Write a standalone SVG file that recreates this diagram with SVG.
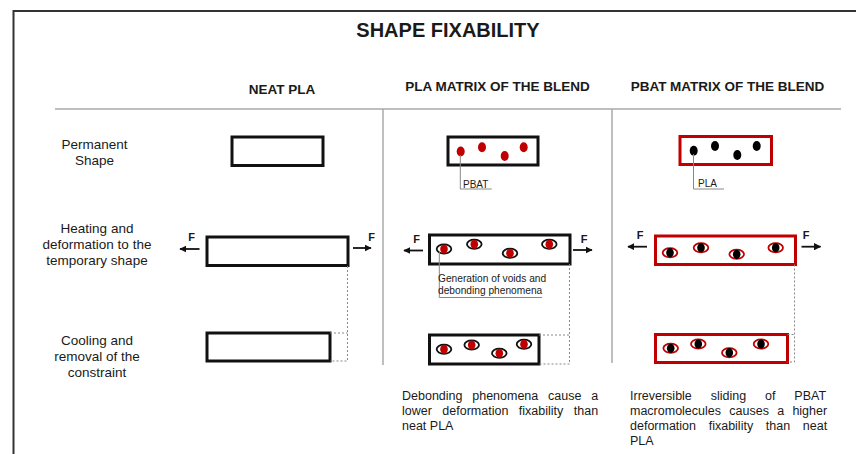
<svg xmlns="http://www.w3.org/2000/svg" width="856" height="454" viewBox="0 0 856 454">
<defs>
<style>
text{font-family:"Liberation Sans",Arial,sans-serif;fill:#1a1a1a}
.title{font-size:20px;font-weight:bold;text-anchor:middle}
.head{font-size:13.5px;font-weight:bold;text-anchor:middle}
.row{font-size:13.5px;text-anchor:middle}
.note{font-size:12.5px}
.lbl{font-size:10.2px}
.f{font-size:11px;font-weight:bold;text-anchor:middle}
.bk{fill:none;stroke:#111;stroke-width:3}
.rd{fill:none;stroke:#c00000;stroke-width:3}
.dr{fill:#c00000}
.db{fill:#000}
.vb{fill:none;stroke:#111;stroke-width:1.8}
.vr{fill:none;stroke:#c00000;stroke-width:1.8}
.div{stroke:#aaaaaa;stroke-width:1.5;fill:none}
.dot{stroke:#888;stroke-width:1;stroke-dasharray:2 2;fill:none}
.lead{stroke:#888;stroke-width:1;fill:none}
.arr{stroke:#111;stroke-width:1.8;fill:none;marker-end:url(#ah)}
</style>
<marker id="ah" viewBox="0 0 10 10" refX="9" refY="5" markerWidth="4" markerHeight="4" orient="auto">
<path d="M0,0 L10,5 L0,10 z" fill="#111"/>
</marker>
</defs>
<rect x="0" y="0" width="856" height="454" fill="#fff"/>
<g id="frame">
<path d="M13.5,454 V11 H856" fill="none" stroke="#333" stroke-width="2"/>
<line class="div" x1="55" y1="109" x2="841" y2="109"/>
<line class="div" x1="383" y1="109" x2="383" y2="365"/>
<line class="div" x1="612" y1="109" x2="612" y2="363"/>
</g>
<g id="headers">
<text class="title" x="448" y="37">SHAPE FIXABILITY</text>
<text class="head" x="282" y="94">NEAT PLA</text>
<text class="head" x="497.5" y="91">PLA MATRIX OF THE BLEND</text>
<text class="head" x="727.5" y="91">PBAT MATRIX OF THE BLEND</text>
</g>
<g id="row-labels">
<text class="row" x="94.5" y="149">Permanent</text>
<text class="row" x="94.5" y="165">Shape</text>
<text class="row" x="97" y="233">Heating and</text>
<text class="row" x="97" y="249">deformation to the</text>
<text class="row" x="97" y="265">temporary shape</text>
<text class="row" x="97" y="345">Cooling and</text>
<text class="row" x="97" y="361">removal of the</text>
<text class="row" x="97" y="377">constraint</text>
</g>
<g id="neat-permanent"><rect class="bk" x="232" y="137" width="91" height="28.5"/></g>
<g id="neat-deformed"><rect class="bk" x="207" y="237" width="141" height="28.5"/></g>
<g id="neat-cooled"><rect class="bk" x="207" y="333" width="123" height="28"/></g>
<g id="pla-permanent">
<rect class="bk" x="448" y="137" width="90" height="28"/>
<ellipse class="dr" cx="460.7" cy="151.5" rx="4" ry="5"/>
<ellipse class="dr" cx="482" cy="147.3" rx="4" ry="5"/>
<ellipse class="dr" cx="504.7" cy="156" rx="4" ry="5"/>
<ellipse class="dr" cx="523.7" cy="147.3" rx="4" ry="5"/>
</g>
<g id="pla-deformed">
<rect class="bk" x="429.5" y="235" width="140.5" height="29"/>
<ellipse class="vb" cx="444" cy="249" rx="7.3" ry="4.6"/><ellipse class="dr" cx="444" cy="249" rx="3.8" ry="4.6"/>
<ellipse class="vb" cx="474.3" cy="244.3" rx="7.3" ry="4.6"/><ellipse class="dr" cx="474.3" cy="244.3" rx="3.8" ry="4.6"/>
<ellipse class="vb" cx="510" cy="253.3" rx="7.3" ry="4.6"/><ellipse class="dr" cx="510" cy="253.3" rx="3.8" ry="4.6"/>
<ellipse class="vb" cx="549.3" cy="244.3" rx="7.3" ry="4.6"/><ellipse class="dr" cx="549.3" cy="244.3" rx="3.8" ry="4.6"/>
</g>
<g id="pla-cooled">
<rect class="bk" x="429.5" y="335" width="109.5" height="29"/>
<ellipse class="vb" cx="444" cy="349.3" rx="7.3" ry="4.6"/><ellipse class="dr" cx="444" cy="349.3" rx="3.8" ry="4.6"/>
<ellipse class="vb" cx="471.7" cy="345" rx="7.3" ry="4.6"/><ellipse class="dr" cx="471.7" cy="345" rx="3.8" ry="4.6"/>
<ellipse class="vb" cx="499.3" cy="353.3" rx="7.3" ry="4.6"/><ellipse class="dr" cx="499.3" cy="353.3" rx="3.8" ry="4.6"/>
<ellipse class="vb" cx="524" cy="344.3" rx="7.3" ry="4.6"/><ellipse class="dr" cx="524" cy="344.3" rx="3.8" ry="4.6"/>
</g>
<g id="pbat-permanent">
<rect class="rd" x="680" y="136.5" width="91.5" height="28"/>
<ellipse class="db" cx="693.7" cy="150.7" rx="4" ry="5"/>
<ellipse class="db" cx="715" cy="146" rx="4" ry="5"/>
<ellipse class="db" cx="737.3" cy="155" rx="4" ry="5"/>
<ellipse class="db" cx="756.7" cy="146" rx="4" ry="5"/>
</g>
<g id="pbat-deformed">
<rect class="rd" x="655.5" y="236" width="140" height="28.5"/>
<ellipse class="vr" cx="670" cy="252.7" rx="7.3" ry="4.6"/><ellipse class="db" cx="670" cy="252.7" rx="3.8" ry="4.6"/>
<ellipse class="vr" cx="701" cy="247.7" rx="7.3" ry="4.6"/><ellipse class="db" cx="701" cy="247.7" rx="3.8" ry="4.6"/>
<ellipse class="vr" cx="736.7" cy="254.3" rx="7.3" ry="4.6"/><ellipse class="db" cx="736.7" cy="254.3" rx="3.8" ry="4.6"/>
<ellipse class="vr" cx="775.7" cy="247.7" rx="7.3" ry="4.6"/><ellipse class="db" cx="775.7" cy="247.7" rx="3.8" ry="4.6"/>
</g>
<g id="pbat-cooled">
<rect class="rd" x="655.5" y="334.5" width="132" height="28"/>
<ellipse class="vr" cx="670.7" cy="348.3" rx="7.3" ry="4.6"/><ellipse class="db" cx="670.7" cy="348.3" rx="3.8" ry="4.6"/>
<ellipse class="vr" cx="698.3" cy="344" rx="7.3" ry="4.6"/><ellipse class="db" cx="698.3" cy="344" rx="3.8" ry="4.6"/>
<ellipse class="vr" cx="729.3" cy="352.7" rx="7.3" ry="4.6"/><ellipse class="db" cx="729.3" cy="352.7" rx="3.8" ry="4.6"/>
<ellipse class="vr" cx="761" cy="344" rx="7.3" ry="4.6"/><ellipse class="db" cx="761" cy="344" rx="3.8" ry="4.6"/>
</g>
<g id="connectors">
<line class="arr" x1="199.5" y1="249" x2="180" y2="249"/>
<line class="arr" x1="353" y1="248" x2="371" y2="248"/>
<line class="arr" x1="423" y1="250.5" x2="404" y2="250.5"/>
<line class="arr" x1="573" y1="250" x2="592" y2="250"/>
<line class="arr" x1="647" y1="246.7" x2="628" y2="246.7"/>
<line class="arr" x1="801.5" y1="246.7" x2="820.5" y2="246.7"/>
<path class="dot" d="M347.5,266 V361 H330 M330,333 H347.5"/>
<path class="dot" d="M569.5,264 V364 H539 M539,335 H569.5"/>
<path class="dot" d="M794.5,264.5 V362 H787.5 M787.5,334.5 H794.5"/>
<path class="lead" d="M460.3,155 V189 H491.7"/>
<path class="lead" d="M693.5,154 V189 H724"/>
<path class="lead" d="M439.3,252 V297.5 H542"/>
</g>
<g id="labels">
<text class="f" x="191.7" y="240.5">F</text>
<text class="f" x="371.5" y="240.5">F</text>
<text class="f" x="416.5" y="243">F</text>
<text class="f" x="584" y="243">F</text>
<text class="f" x="640" y="239">F</text>
<text class="f" x="806" y="239">F</text>
<text class="lbl" x="463" y="187.5" style="font-size:10px">PBAT</text>
<text class="lbl" x="698" y="187" style="font-size:10px">PLA</text>
<text class="lbl" x="438" y="282">Generation of voids and</text>
<text class="lbl" x="438" y="293.5">debonding phenomena</text>
</g>
<g id="notes">
<text class="note" x="402" y="399.5" word-spacing="6.3">Debonding phenomena cause a</text>
<text class="note" x="402" y="414.8" word-spacing="7">lower deformation fixability than</text>
<text class="note" x="402" y="430.1">neat PLA</text>
<text class="note" x="630" y="399.5" word-spacing="15.4">Irreversible sliding of PBAT</text>
<text class="note" x="630" y="414.8" word-spacing="4.8">macromolecules causes a higher</text>
<text class="note" x="630" y="430.1" word-spacing="9.2">deformation fixability than neat</text>
<text class="note" x="630" y="445.4">PLA</text>
</g>
</svg>
